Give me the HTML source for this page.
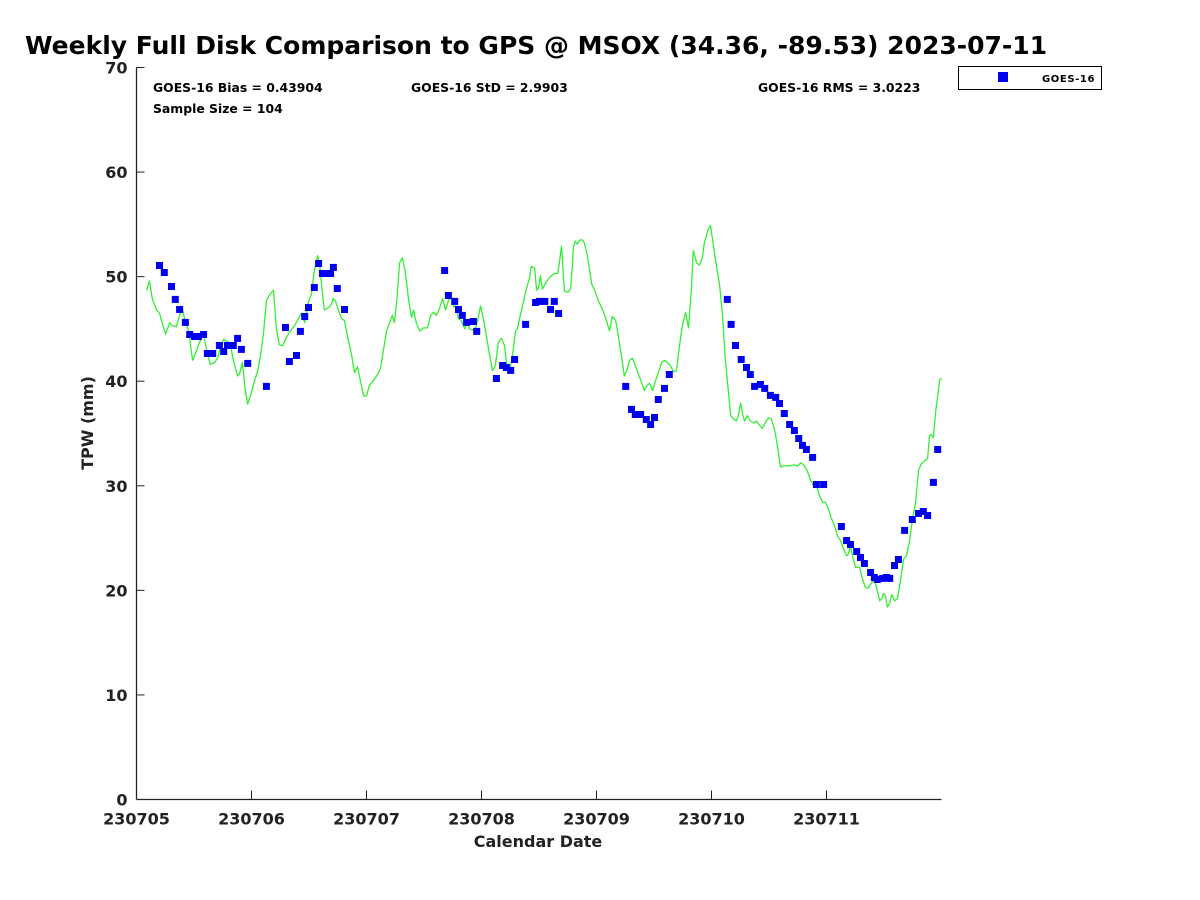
<!DOCTYPE html>
<html><head><meta charset="utf-8"><style>
html,body{margin:0;padding:0;background:#fff;}
svg{display:block;font-family:"DejaVu Sans","Liberation Sans",sans-serif;font-weight:bold;}
</style></head><body>
<svg id="chart" width="1200" height="900" viewBox="0 0 1200 900">
<text x="25" y="54" font-size="25" fill="#000">Weekly Full Disk Comparison to GPS @ MSOX (34.36, -89.53) 2023-07-11</text>
<g id="axes"></g>
<g id="series"></g>
<text x="153" y="92" font-size="12.4">GOES-16 Bias = 0.43904</text>
<text x="153" y="113" font-size="12.4">Sample Size = 104</text>
<text x="411" y="92" font-size="12.4">GOES-16 StD = 2.9903</text>
<text x="758" y="92" font-size="12.4">GOES-16 RMS = 3.0223</text>
<g>
<rect x="958.5" y="66.5" width="143" height="23" fill="#fff" stroke="#000" stroke-width="1"/>
<rect x="998" y="72" width="10" height="10" fill="#0000ee"/>
<text x="1042" y="82" font-size="10" letter-spacing="0.6">GOES-16</text>
</g>
<text x="538" y="847" font-size="16" text-anchor="middle" fill="#222">Calendar Date</text>
<text transform="translate(93,423) rotate(-90)" font-size="16" text-anchor="middle" fill="#222">TPW (mm)</text>
</svg>
<script>
const xTickLabels=["230705","230706","230707","230708","230709","230710","230711"];
const yTicks=[0,10,20,30,40,50,60,70];
const goesHours=[4.8,5.8,7.3,8.1,9.0,10.2,11.1,12.1,12.9,14.0,14.8,15.9,17.3,18.2,19.0,20.2,21.1,21.9,23.2,27.1,31.1,31.9,33.4,34.2,35.1,35.9,37.1,38.0,38.8,39.9,40.5,41.1,41.9,43.4,64.3,65.1,66.4,67.2,68.0,68.9,70.3,71.0,75.1,76.4,77.2,78.1,78.9,81.2,83.3,84.1,85.2,86.4,87.2,88.1,102.1,103.3,104.1,105.2,106.4,107.3,108.1,108.9,110.2,111.2,123.3,124.1,125.0,126.2,127.3,128.1,129.0,130.2,131.1,132.3,133.4,134.2,135.2,136.3,137.3,138.2,139.0,139.8,141.1,141.9,143.4,147.1,148.2,149.0,150.3,151.1,151.9,153.2,154.0,154.6,155.7,156.5,157.2,158.2,159.0,160.3,161.9,163.2,164.2,165.1,166.3,167.2];
const goesTpw=[51.07,50.40,49.06,47.82,46.86,45.62,44.47,44.28,44.28,44.47,42.65,42.65,43.42,42.84,43.42,43.42,44.09,43.04,41.70,39.50,45.14,41.89,42.46,44.76,46.19,47.05,48.96,51.26,50.30,50.30,50.30,50.88,48.87,46.86,50.59,48.20,47.63,46.86,46.29,45.62,45.71,44.76,40.26,41.50,41.31,41.03,42.08,45.43,47.53,47.63,47.63,46.86,47.63,46.48,39.50,37.30,36.82,36.82,36.34,35.86,36.53,38.25,39.31,40.64,47.82,45.43,43.42,42.08,41.31,40.64,39.50,39.69,39.31,38.64,38.45,37.87,36.91,35.86,35.29,34.52,33.86,33.47,32.71,30.12,30.12,26.11,24.77,24.39,23.72,23.14,22.57,21.71,21.23,21.04,21.14,21.23,21.14,22.38,22.95,25.73,26.78,27.35,27.54,27.16,30.32,33.47];
const gpsHours=[2.1,2.7,3.3,4.2,4.8,5.4,6.1,6.9,7.5,8.3,9.0,9.6,10.2,10.9,11.3,11.7,12.5,13.1,14.0,14.6,15.4,16.3,16.9,17.5,18.2,19.0,19.6,20.2,21.1,21.5,22.1,22.7,23.2,23.8,24.4,25.3,25.9,26.5,27.1,27.8,28.6,29.2,29.8,30.5,31.3,32.1,32.8,33.6,34.4,35.1,35.9,36.5,37.1,37.8,38.2,38.6,39.2,39.9,40.5,41.1,41.5,42.2,42.8,43.4,44.0,44.9,45.5,46.1,46.7,47.4,48.0,48.6,49.5,50.1,50.9,51.5,52.2,52.8,53.4,53.8,54.3,54.9,55.5,56.1,56.8,57.4,57.8,58.4,59.1,59.9,60.7,61.4,62.0,62.6,63.2,63.9,64.5,65.1,65.7,66.2,66.6,67.2,67.8,68.5,69.1,69.5,70.1,70.7,71.2,71.8,72.4,73.0,73.7,74.3,74.9,75.5,76.2,76.8,77.4,77.8,78.5,79.1,79.5,80.1,80.8,81.4,82.0,82.4,83.1,83.5,83.9,84.3,84.7,85.4,86.0,86.6,87.2,87.9,88.3,88.7,89.3,90.0,90.6,91.0,91.2,91.6,92.0,92.5,93.1,93.5,94.1,95.0,95.6,96.4,97.3,98.1,98.7,99.3,100.0,100.6,101.2,101.8,102.3,102.9,103.5,104.1,104.8,105.4,106.0,106.6,107.1,107.7,108.3,108.9,109.6,110.2,110.8,111.4,112.1,112.7,113.3,113.9,114.6,115.2,115.8,116.2,116.9,117.5,118.1,118.5,119.2,119.8,120.4,121.0,121.7,122.3,122.9,123.5,124.0,124.6,125.2,125.6,126.1,126.5,126.9,127.5,128.1,128.8,129.4,130.0,130.6,131.3,131.9,132.5,133.2,133.8,134.4,135.0,135.7,136.3,137.1,137.9,138.7,139.4,140.0,140.7,141.3,141.9,142.5,143.2,143.8,144.4,145.0,145.7,146.3,146.9,147.5,148.2,148.6,149.0,149.4,150.1,150.9,151.5,152.1,152.6,153.4,154.0,154.6,155.1,155.5,155.9,156.3,156.7,157.2,157.6,158.2,158.8,159.4,160.1,160.7,161.3,161.9,162.6,163.2,163.8,164.5,165.1,165.5,165.9,166.3,166.8,167.2,167.6,168.0];
const gpsTpw=[48.7,49.6,47.9,46.8,46.5,45.5,44.5,45.6,45.3,45.2,46.3,46.9,45.6,44.8,43.4,42.0,42.9,43.7,44.4,43.1,41.6,41.8,42.2,43.2,44.0,43.8,43.5,42.0,40.5,40.7,41.8,39.1,37.8,38.6,39.7,41.0,42.5,44.6,47.7,48.3,48.7,45.0,43.5,43.4,44.2,44.8,45.2,45.8,46.5,45.6,47.6,48.3,50.6,52.0,51.3,49.3,46.8,47.0,47.2,47.9,47.7,46.7,46.0,45.8,44.4,42.5,40.8,41.4,40.1,38.6,38.6,39.6,40.1,40.5,41.2,42.9,44.8,45.6,46.3,45.6,47.7,51.3,51.8,50.4,47.7,46.1,46.8,45.6,44.8,45.1,45.1,46.3,46.6,46.3,46.9,47.9,46.8,47.7,48.1,47.1,47.2,46.0,45.8,45.0,45.8,45.0,44.9,45.0,45.8,47.2,46.0,44.4,42.5,41.0,41.5,43.7,44.1,43.4,41.0,40.9,42.5,44.8,45.0,46.3,47.7,48.9,49.8,51.0,50.8,48.7,48.9,50.1,48.8,49.4,49.8,50.1,50.3,50.3,51.5,52.9,48.6,48.5,48.8,51.2,52.9,53.4,53.1,53.5,53.5,53.2,52.0,49.3,48.7,47.7,46.8,45.8,44.8,46.2,45.8,44.2,42.5,40.5,41.0,42.0,42.2,41.5,40.6,39.9,39.1,39.6,39.8,39.1,40.0,40.8,41.8,42.0,41.8,41.5,40.9,41.0,43.3,45.3,46.6,45.1,48.7,52.5,51.3,51.1,51.8,53.2,54.4,54.9,53.0,51.1,49.2,46.3,42.0,39.1,36.7,36.4,36.2,36.7,37.9,36.8,36.2,36.7,36.2,36.0,36.2,35.8,35.5,36.1,36.5,36.4,35.3,33.7,31.8,31.9,31.9,31.9,32.0,31.9,32.2,31.9,31.4,30.5,30.0,30.0,29.1,28.4,28.4,27.8,26.9,26.2,25.2,24.8,24.0,23.3,23.5,24.3,23.3,22.2,22.2,21.1,20.3,20.2,20.7,21.1,20.0,19.0,19.2,19.7,19.5,18.4,18.8,19.6,19.0,19.2,20.8,23.0,23.3,24.6,26.7,28.4,31.5,32.1,32.4,32.6,34.8,34.9,34.6,37.2,38.6,40.1,40.3];

const NS='http://www.w3.org/2000/svg';
const X0=136.5,X1=941.5,Y0=799.5,Y1=67.5,HMAX=168,VMAX=70;
function xs(h){return X0+(X1-X0)*h/HMAX;}
function ys(v){return Y0-(Y0-Y1)*v/VMAX;}
function mk(tag,attrs,parent){const e=document.createElementNS(NS,tag);for(const k in attrs)e.setAttribute(k,attrs[k]);parent.appendChild(e);return e;}
const axes=document.getElementById('axes');
const series=document.getElementById('series');

const yAxis=mk('line',{x1:X0,y1:Y1,x2:X0,y2:Y0,stroke:'#222','stroke-width':1.3},axes);


const xAxis=mk('line',{x1:X0,y1:Y0,x2:X1,y2:Y0,stroke:'#222','stroke-width':1.3},axes);



yTicks.forEach(v=>{
  const y=ys(v);
  const t=mk('line',{x1:X0,y1:y,x2:X0+8,y2:y,stroke:'#222','stroke-width':1},axes);
  
  
  const l=mk('text',{x:X0-9,y:y+6,'font-size':16,'text-anchor':'end',fill:'#222'},axes);
  l.textContent=String(v);
  
  
});
xTickLabels.forEach((lab,i)=>{
  const x=xs(i*24);
  const t=mk('line',{x1:x,y1:Y0,x2:x,y2:Y0-9,stroke:'#222','stroke-width':1},axes);
  
  
  const l=mk('text',{x:x,y:Y0+25,'font-size':16,'text-anchor':'middle',fill:'#222'},axes);
  l.textContent=lab;
  
  
});

const pts=gpsHours.map((h,i)=>xs(h).toFixed(1)+','+ys(gpsTpw[i]).toFixed(1)).join(' ');
const line=mk('polyline',{points:pts,fill:'none',stroke:'#33ee33','stroke-width':1.3,'stroke-linejoin':'round'},series);



goesHours.forEach((h,i)=>{
  const r=mk('rect',{x:(xs(h)-3.5).toFixed(1),y:(ys(goesTpw[i])-3.5).toFixed(1),width:7,height:7,fill:'#0000ee'},series);
  
  
});
</script>
</body></html>
